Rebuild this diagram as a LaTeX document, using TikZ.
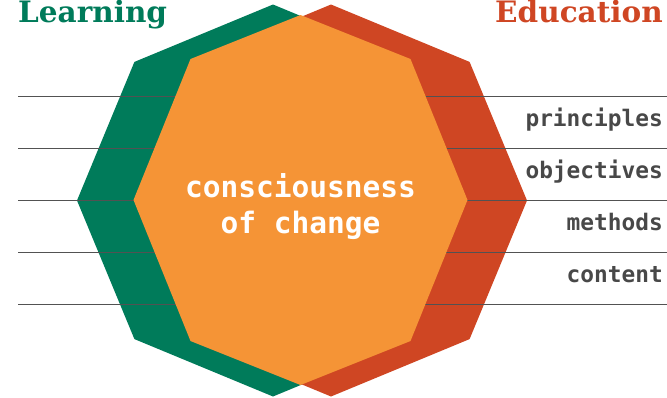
\documentclass[tikz,border=0pt]{standalone}
\usepackage{fontspec}
\usetikzlibrary{positioning}
\newfontfamily\labelfont{DejaVu Sans Mono}
\newfontfamily\headfont{DejaVu Serif}
\definecolor{learngreen}{RGB}{0,123,90}
\definecolor{edured}{RGB}{207,70,35}
\definecolor{coreorange}{RGB}{245,148,54}
\definecolor{rulegray}{RGB}{82,82,82}
\definecolor{labelgray}{RGB}{72,72,72}
\tikzset{
    divider/.style={draw=rulegray, line width=1.7pt},
    facet/.style={anchor=base east, inner sep=0pt, text=labelgray,
        font=\labelfont\bfseries\fontsize{22.8}{26}\selectfont},
    headline/.style={inner sep=0pt, font=\headfont\bfseries\fontsize{29.5}{34}\selectfont},
    core/.style={anchor=base, inner sep=0pt, text=white,
        font=\labelfont\bfseries\fontsize{29.5}{36}\selectfont},
}
\begin{document}
\begin{tikzpicture}[x=1pt,y=-1pt]
        \useasboundingbox (0,0) rectangle (667,397);
        % the two outer octagons
        \begin{scope}[shift={(273,200.5)}]
            \fill[learngreen] (90:196) -- (135:196) -- (180:196) -- (225:196) -- (270:196) -- (315:196) -- (0:196) -- (45:196) -- cycle;
        \end{scope}
        \begin{scope}[shift={(331,200.5)}]
            \fill[edured] (90:196) -- (135:196) -- (180:196) -- (225:196) -- (270:196) -- (315:196) -- (0:196) -- (45:196) -- cycle;
        \end{scope}
        \draw[divider] (18,96.5) -- (667,96.5);
        \draw[divider] (18,148.5) -- (667,148.5);
        \draw[divider] (18,200.5) -- (667,200.5);
        \draw[divider] (18,252.5) -- (667,252.5);
        \draw[divider] (18,304.5) -- (667,304.5);
        % inner octagon
        \fill[coreorange] (300.5,15) -- (410.5,59) -- (467.5,200) -- (410.5,341) -- (300.5,385) -- (190.5,341) -- (133.5,200) -- (190.5,59) -- cycle;
        \node[headline, text=learngreen, anchor=base west] (learning) at (18,22.7) {Learning};
        \node[headline, text=edured, anchor=base east] (education) at (663,22.7) {Education};
        \node[core] (cons) at (300.5,197.3) {consciousness};
        \node[core] (change) at ([yshift=-35.7pt]cons.base) {of change};
        \node[facet] (principles) at (663,126.7) {principles};
        \node[facet] (objectives) at (663,178.7) {objectives};
        \node[facet] (methods) at (663,230.7) {methods};
        \node[facet] (content) at (663,282.7) {content};
    \end{tikzpicture}
\end{document}
